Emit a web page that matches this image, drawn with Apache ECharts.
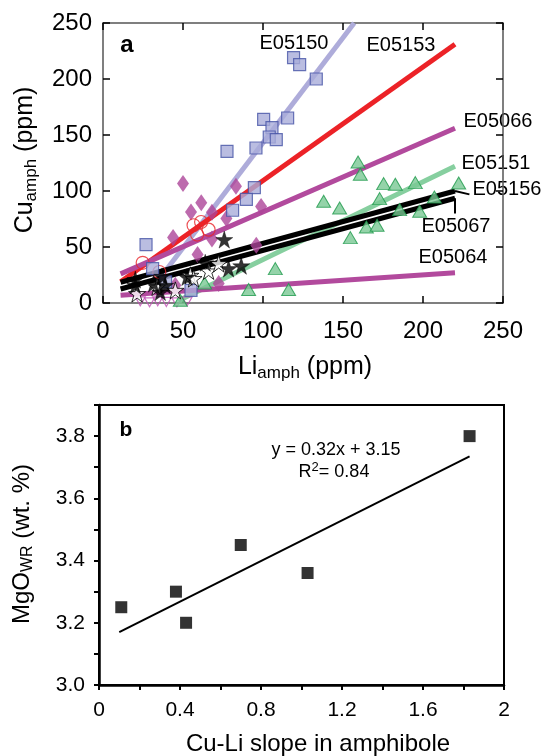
<!DOCTYPE html>
<html><head><meta charset="utf-8">
<script src="https://cdn.jsdelivr.net/npm/echarts@6/dist/echarts.min.js"></script>
<style>html,body{margin:0;padding:0;background:#fff}#c{width:543px;height:756px}</style>
</head><body><div id="c"></div>
<script>
const FONT = 'Liberation Sans, Arial, sans-serif';

// ---------- Panel a: Cu vs Li in amphibole ----------
const liRange = [0, 250];
const cuRange = [0, 250];
const aInterval = 50;

// regression lines (endpoints)
const fitE05150 = [[36, 23], [157, 250]];
const fitE05153 = [[11, 19], [220, 231]];
const fitE05066 = [[11, 26], [220, 156]];
const fitE05151 = [[47, 2], [220, 122]];
const fitE05156 = [[11, 18.5], [220, 100]];
const fitE05067 = [[11, 12.5], [220, 93.5]];
const fitE05064 = [[11, 7], [220, 27]];
const leaderE05156 = [[220, 100], [229, 97]];
const leaderE05067 = [[220, 93.5], [220, 80]];

// data points [Li, Cu]
const ptsE05150 = [[119.1,219.1],[122.9,212.9],[133.3,200],[115.4,165.2],[100.4,164],[105.6,156.6],[103.9,148.2],[108.3,145.9],[77.5,135.4],[95.6,138.4],[94.6,103],[89.6,92.6],[81,82.8],[26.9,52.1],[31,30.7],[39.1,18.8],[55,11.3]];
const ptsE05153 = [[56.6,69.4],[61.3,72.3],[58.8,61.1],[66,65.5],[24.8,35.9],[35.2,27.7]];
const ptsE05066 = [[50,106.6],[83.1,104.2],[61.4,89.5],[55,81.3],[68.1,81],[98.8,86.1],[77.1,75.4],[43.8,58.4],[59.1,43.2],[68.1,57.1],[95.8,51.5],[72.3,17.3],[45.2,15.8]];
const ptsE05151 = [[159.4,125.9],[160.8,114.9],[175.4,106.6],[182.7,106],[195.2,107.5],[222.3,107.1],[137.9,90.8],[147.9,84.8],[172.9,93.2],[207.1,94.6],[185.4,83.4],[197.9,81.9],[164.6,67.9],[171.3,69.4],[154.6,58.4],[116,12],[107.7,30.7],[91,12],[63.5,17.9],[48.3,2.4]];
const ptsE05156 = [[75.8,56.6],[86.4,33.2],[78.5,30.7],[63.9,35.9],[20.2,20.9],[31.6,17.3],[38.9,15.8],[35.8,9.8],[52.5,23.2],[20.2,15.8],[36.9,23.8]];
const ptsE05067 = [[54.6,24.7],[66,28.6],[72.3,35.2],[21.3,8.4],[33.8,14.3],[56.6,21.8],[45.2,11.3]];
const ptsE05064 = [[23.3,1.5],[29.1,0.6],[34.2,1.5],[39.6,1],[46.2,0.6],[52.6,1.5]];

// ---------- Panel b: MgO vs Cu-Li slope ----------
const slopeX = [0.11, 0.38, 0.43, 0.70, 1.03, 1.83];
const mgoY = [3.25, 3.30, 3.20, 3.45, 3.36, 3.80];
const fitB = [[0.1, 3.17], [1.83, 3.735]];
const bxRange = [0, 2];
const byRange = [3.0, 3.9];

const STAR = 'path://M50 0 L61.17 34.63 L97.55 34.55 L68.07 55.87 L79.39 90.45 L50 69 L20.61 90.45 L31.93 55.87 L2.45 34.55 L38.83 34.63 Z';

const C_LAV = '#aeacda', C_RED = '#ec2227', C_MAG = '#b24a9d', C_GRN = '#86cf9f';

function fitLine(data, color, width) {
  return { type: 'line', xAxisIndex: 0, yAxisIndex: 0, data: data, showSymbol: false, symbol: 'none',
    lineStyle: { color: color, width: width, cap: 'butt' }, silent: true, animation: false, z: 2 };
}
function pts(data, opt) {
  return Object.assign({ type: 'scatter', xAxisIndex: 0, yAxisIndex: 0, data: data, clip: false, animation: false, z: 3 }, opt);
}

const axisA = (pos, showLabel, isX) => ({
  type: 'value', gridIndex: 0, position: pos,
  min: isX ? liRange[0] : cuRange[0], max: isX ? liRange[1] : cuRange[1], interval: aInterval,
  axisLine: { show: true, onZero: false, lineStyle: { color: '#555', width: 1.5 } },
  axisTick: { show: true, inside: true, length: 7, lineStyle: { color: '#000', width: 1.5 } },
  axisLabel: { show: showLabel, fontSize: 24, fontFamily: FONT, color: '#000', margin: isX ? 16 : 11 },
  splitLine: { show: false }
});

function txt(x, y, text, size, extra) {
  return Object.assign({ type: 'text', x: x, y: y, silent: true,
    style: Object.assign({ text: text, fontSize: size, fontFamily: FONT, fill: '#000',
      align: 'center', verticalAlign: 'middle', textAlign: 'center', textVerticalAlign: 'middle' }, (extra && extra.style) || {}) },
    extra ? { rotation: extra.rotation || 0 } : {});
}

const option = {
  backgroundColor: '#fff',
  animation: false,
  grid: [
    { left: 103, top: 23, width: 400, height: 280, show: false },
    { left: 99, top: 405, width: 405, height: 280, show: true, borderColor: '#000', borderWidth: 2 }
  ],
  xAxis: [
    axisA('bottom', true, true),
    axisA('top', false, true),
    { type: 'value', gridIndex: 1, position: 'bottom', min: bxRange[0], max: bxRange[1], interval: 0.2,
      axisLine: { show: true, onZero: false, lineStyle: { color: '#000', width: 2.5 } },
      axisTick: { show: true, inside: false, length: 5, lineStyle: { color: '#000', width: 2 } },
      axisLabel: { fontSize: 21, fontFamily: FONT, color: '#000', margin: 15,
        formatter: v => { const k = Math.round(v * 10); if (k % 4 !== 0) return ''; return k === 0 ? '0' : (k === 20 ? '2' : (k / 10).toFixed(1)); } },
      splitLine: { show: false } }
  ],
  yAxis: [
    axisA('left', true, false),
    axisA('right', false, false),
    { type: 'value', gridIndex: 1, position: 'left', min: byRange[0], max: byRange[1], interval: 0.1,
      axisLine: { show: true, onZero: false, lineStyle: { color: '#000', width: 2.5 } },
      axisTick: { show: true, inside: false, length: 5, lineStyle: { color: '#000', width: 2 } },
      axisLabel: { fontSize: 21, fontFamily: FONT, color: '#000', margin: 14,
        formatter: v => { const k = Math.round(v * 10); if (k % 2 !== 0 || k > 38) return ''; return (k / 10).toFixed(1); } },
      splitLine: { show: false } }
  ],
  series: [
    fitLine(fitE05150, C_LAV, 5),
    fitLine(fitE05153, C_RED, 5),
    fitLine(fitE05066, C_MAG, 5),
    fitLine(fitE05151, C_GRN, 5),
    fitLine(fitE05064, C_MAG, 5),
    fitLine(fitE05156, '#000', 5),
    fitLine(fitE05067, '#000', 5),
    fitLine(leaderE05156, '#000', 2),
    fitLine(leaderE05067, '#000', 2),
    pts(ptsE05064, { symbol: 'triangle', symbolRotate: 180, symbolSize: [10, 9], itemStyle: { color: 'rgba(255,255,255,0)', borderColor: '#c04fb4', borderWidth: 1.2 } }),
    pts(ptsE05151, { symbol: 'triangle', symbolSize: [14, 12], itemStyle: { color: '#79c893', borderColor: '#1e9a4b', borderWidth: 1 } }),
    pts(ptsE05066, { symbol: 'diamond', symbolSize: [12, 17], itemStyle: { color: '#ad4599', borderColor: '#ad4599', borderWidth: 0 } }),
    pts(ptsE05153, { symbol: 'circle', symbolSize: 13, itemStyle: { color: 'rgba(255,255,255,0)', borderColor: '#e8262b', borderWidth: 1.2 } }),
    pts(ptsE05150, { symbol: 'rect', symbolSize: 12, itemStyle: { color: '#a9acd9', borderColor: '#4654a6', borderWidth: 1.2 } }),
    pts(ptsE05067, { symbol: STAR, symbolSize: 17, itemStyle: { color: '#fff', borderColor: '#000', borderWidth: 1 } }),
    pts(ptsE05156, { symbol: STAR, symbolSize: 17, itemStyle: { color: '#000', borderColor: '#000', borderWidth: 0.5 } }),
    // panel b
    { type: 'line', xAxisIndex: 2, yAxisIndex: 2, data: fitB, showSymbol: false, symbol: 'none',
      lineStyle: { color: '#000', width: 2 }, animation: false, silent: true },
    { type: 'scatter', xAxisIndex: 2, yAxisIndex: 2, data: slopeX.map((x, i) => [x, mgoY[i]]),
      symbol: 'rect', symbolSize: 12, itemStyle: { color: '#000' }, animation: false }
  ],
  graphic: [
    txt(127, 45, 'a', 24, { style: { fontWeight: 'bold' } }),
    txt(294, 43, 'E05150', 20),
    txt(401, 45, 'E05153', 20),
    txt(498, 121, 'E05066', 20),
    txt(496, 163, 'E05151', 20),
    txt(507, 189, 'E05156', 20),
    txt(456, 226, 'E05067', 20),
    txt(453, 257, 'E05064', 20),
    txt(25, 160, '{m|Cu}{s|amph}{m| (ppm)}', 25, { rotation: Math.PI / 2, style: {
      rich: { m: { fontSize: 25, fontFamily: FONT, lineHeight: 30 }, s: { fontSize: 17, fontFamily: FONT, verticalAlign: 'bottom' } } } }),
    txt(305, 367, '{m|Li}{s|amph}{m| (ppm)}', 25, { style: {
      rich: { m: { fontSize: 25, fontFamily: FONT, lineHeight: 30 }, s: { fontSize: 17, fontFamily: FONT, verticalAlign: 'bottom' } } } }),
    txt(126, 430, 'b', 21, { style: { fontWeight: 'bold' } }),
    txt(336, 450, 'y = 0.32x + 3.15', 18),
    txt(334, 472, '{r|R}{p|2}{r|= 0.84}', 18, { style: {
      rich: { r: { fontSize: 18, fontFamily: FONT, lineHeight: 22 }, p: { fontSize: 13, fontFamily: FONT, verticalAlign: 'top' } } } }),
    txt(22, 544, '{m|MgO}{s|WR}{m| (wt. %)}', 24, { rotation: Math.PI / 2, style: {
      rich: { m: { fontSize: 24, fontFamily: FONT, lineHeight: 28 }, s: { fontSize: 16, fontFamily: FONT, verticalAlign: 'bottom' } } } }),
    txt(318, 744, 'Cu-Li slope in amphibole', 24)
  ]
};

const chart = echarts.init(document.getElementById('c'), null, { renderer: 'canvas' });
chart.setOption(option);
</script>
</body></html>
